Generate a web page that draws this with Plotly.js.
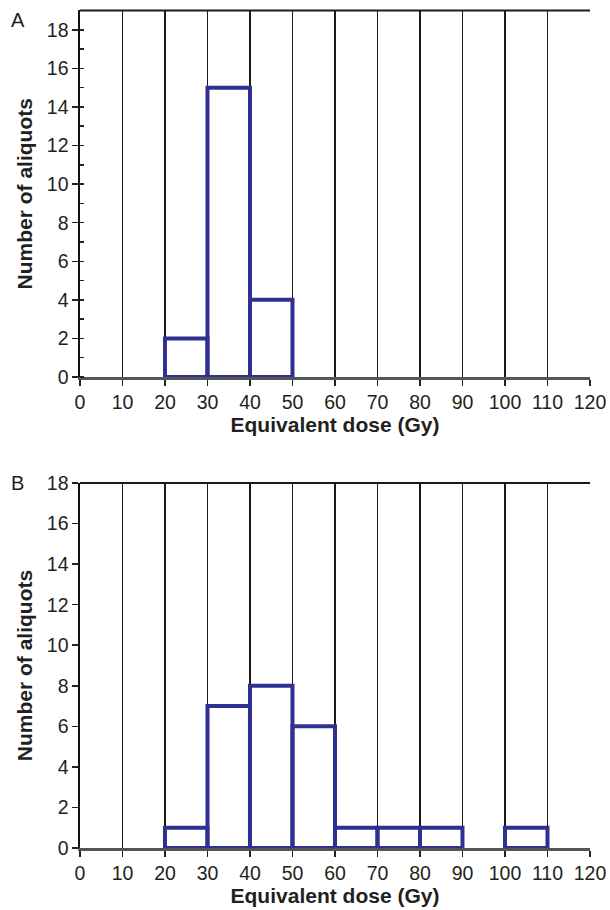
<!DOCTYPE html>
<html><head><meta charset="utf-8">
<script src="https://cdn.plot.ly/plotly-3.0.1.min.js"></script>
<style>html,body{margin:0;padding:0;background:#fff}</style>
</head><body><div id="chart" style="width:610px;height:910px"></div>
<script>
// Bin centres (Gy), bin width 10
const binCentersA = [25, 35, 45];
const countsA = [2, 15, 4];
const binCentersB = [25, 35, 45, 55, 65, 75, 85, 105];
const countsB = [1, 7, 8, 6, 1, 1, 1, 1];
const xTickVals = [0,10,20,30,40,50,60,70,80,90,100,110,120];
const yTickVals = [0,2,4,6,8,10,12,14,16,18];
const binWidth = 10;

const blue = '#2e3192';
const txt = '#231f20';
const fam = 'Liberation Sans, Arial, sans-serif';
const tickFont = {family: fam, size: 19.5, color: txt};
const titleFont = {family: fam, size: 21, color: txt, weight: 'bold'};

function barTrace(x, y, xa, ya) {
  return {type: 'bar', x: x, y: y, width: x.map(() => binWidth), xaxis: xa, yaxis: ya,
    marker: {color: 'rgba(255,255,255,0)', line: {color: blue, width: 4}}, hoverinfo: 'skip'};
}

function xAxis(domain, anchor) {
  return {domain: domain, anchor: anchor, range: [0, 120], tickvals: xTickVals, ticks: 'outside', ticklen: 6, tickwidth: 1.5,
    tickcolor: '#222', showgrid: true, gridcolor: '#1a1a1a', gridwidth: 1.3, zeroline: false,
    showline: true, linecolor: '#555', linewidth: 2.5, tickfont: tickFont,
    title: {text: 'Equivalent dose (Gy)', font: titleFont, standoff: 6}};
}
function yAxis(domain, anchor, range) {
  return {domain: domain, anchor: anchor, range: range, tickvals: yTickVals, ticks: 'outside', ticklen: 6, tickwidth: 1.5, tickcolor: '#222',
    showgrid: false, zeroline: false, showline: true, linecolor: '#111', linewidth: 1.5, tickfont: tickFont,
    title: {text: 'Number of aliquots', font: titleFont, standoff: 8}};
}

const layout = {
  width: 610, height: 910, margin: {l: 0, r: 0, t: 0, b: 0}, showlegend: false,
  paper_bgcolor: '#fff', plot_bgcolor: '#fff', barmode: 'overlay',
  xaxis: xAxis([0.1311, 0.9672], 'y'),
  yaxis: Object.assign(yAxis([0.5857, 0.9885], 'x', [0, 19]), {
    minor: {dtick: 1, tick0: 1, ticks: 'inside', ticklen: 4, tickcolor: '#222', tickwidth: 1.5, showgrid: false}}),
  xaxis2: xAxis([0.1311, 0.9672], 'y2'),
  yaxis2: yAxis([0.0681, 0.4692], 'x2', [0, 18]),
  shapes: [
    {type: 'line', xref: 'x domain', yref: 'y domain', x0: 0, x1: 1, y0: 1, y1: 1, line: {color: '#1a1a1a', width: 2}},
    {type: 'line', xref: 'x2 domain', yref: 'y2 domain', x0: 0, x1: 1, y0: 1, y1: 1, line: {color: '#1a1a1a', width: 2}}
  ],
  annotations: [
    {text: 'A', xref: 'paper', yref: 'paper', x: 9/610, y: 1 - 20/910, xanchor: 'left', yanchor: 'middle', showarrow: false, font: {family: fam, size: 20, color: txt}},
    {text: 'B', xref: 'paper', yref: 'paper', x: 9/610, y: 1 - 483/910, xanchor: 'left', yanchor: 'middle', showarrow: false, font: {family: fam, size: 20, color: txt}}
  ]
};

Plotly.newPlot('chart', [barTrace(binCentersA, countsA, 'x', 'y'), barTrace(binCentersB, countsB, 'x2', 'y2')], layout, {displayModeBar: false, staticPlot: true});
</script></body></html>
